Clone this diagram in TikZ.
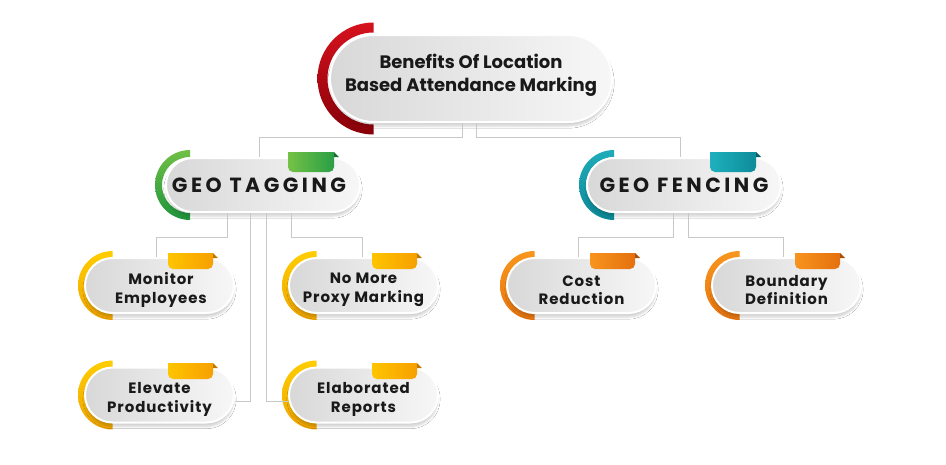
\documentclass[tikz,border=0pt]{standalone}
\usepackage{fontspec}
\setmainfont{Poppins}
\newfontfamily\geofont{Poppins}[LetterSpace=17]
\newfontfamily\smallfont{Poppins}[LetterSpace=6]
\usetikzlibrary{shadows.blur}
\definecolor{pillL}{RGB}{216,216,216}
\definecolor{pillR}{RGB}{247,247,247}
\definecolor{txt}{RGB}{25,25,25}
\definecolor{lineC}{RGB}{200,200,200}
\definecolor{redT}{RGB}{214,18,30}\definecolor{redB}{RGB}{135,0,8}
\definecolor{grnT}{RGB}{112,192,70}\definecolor{grnB}{RGB}{30,148,60}
\definecolor{grnL}{RGB}{116,194,70}\definecolor{grnR}{RGB}{42,158,70}\definecolor{grnF}{RGB}{20,110,50}
\definecolor{tealT}{RGB}{30,172,186}\definecolor{tealB}{RGB}{14,136,150}
\definecolor{tealL}{RGB}{30,176,190}\definecolor{tealR}{RGB}{14,140,154}\definecolor{tealF}{RGB}{8,95,105}
\definecolor{yelT}{RGB}{255,205,0}\definecolor{yelB}{RGB}{240,165,0}
\definecolor{yelL}{RGB}{255,196,0}\definecolor{yelR}{RGB}{246,160,0}\definecolor{yelF}{RGB}{190,120,0}
\definecolor{orT}{RGB}{248,150,30}\definecolor{orB}{RGB}{232,118,16}
\definecolor{orL}{RGB}{248,148,30}\definecolor{orR}{RGB}{228,112,14}\definecolor{orF}{RGB}{170,80,10}
% arc: cx, cy, outer r, inner r, top colour, bottom colour
\newcommand{\mkarc}[6]{%
  \shade[top color=#5,bottom color=#6] (#1,#2) ++(0,#3) arc[start angle=90,end angle=270,radius=#3]
    -- ++(0,#3-#4) arc[start angle=270,end angle=90,radius=#4] -- cycle;}
% tab: x1, x2, ytop, ybottom, left colour, right colour, fold colour
\newcommand{\mktab}[7]{%
  \shade[left color=#5,right color=#6] (#1,#3) -- (#2,#3) -- (#2,#4+5) arc[start angle=0,end angle=-90,radius=5]
    -- (#1+5,#4) arc[start angle=270,end angle=180,radius=5] -- cycle;
  \fill[#7] (#2,#3) -- (#2+5,#3-5) -- (#2,#3-5) -- cycle;}
\tikzset{
  pill/.style={draw=white, line width=2pt, left color=pillL, right color=pillR,
    blur shadow={shadow xshift=0pt, shadow yshift=-4pt, shadow opacity=18, shadow blur steps=6}},
  bigpill/.style={pill, minimum width=282pt, minimum height=87pt, rounded corners=43.5pt},
  geopill/.style={pill, minimum width=194pt, minimum height=54pt, rounded corners=27pt},
  smallpill/.style={pill, minimum width=149pt, minimum height=55pt, rounded corners=27.5pt},
  bigtext/.style={align=center, text=txt, inner sep=0pt, font=\bfseries\fontsize{18}{23}\selectfont},
  geotext/.style={text=txt, inner sep=0pt, font=\geofont\bfseries\fontsize{20.5}{24}\selectfont},
  smalltext/.style={align=center, text=txt, inner sep=0pt, font=\smallfont\bfseries\fontsize{15}{18.5}\selectfont},
  conn/.style={draw=lineC, line width=0.8pt}
}
\begin{document}
\begin{tikzpicture}[x=1pt,y=1pt]
\fill[white] (0,0) rectangle (946,-464);
\useasboundingbox (0,0) rectangle (946,-464);
% arcs
\mkarc{373.5}{-78.5}{56}{46}{redT}{redB}
\mkarc{190}{-185}{35}{28}{grnT}{grnB}
\mkarc{614}{-185}{35}{28}{tealT}{tealB}
\mkarc{112.5}{-285.5}{34.5}{28}{yelT}{yelB}
\mkarc{316.5}{-285.5}{34.5}{28}{yelT}{yelB}
\mkarc{112.5}{-395}{34.5}{28}{yelT}{yelB}
\mkarc{316.5}{-395}{34.5}{28}{yelT}{yelB}
\mkarc{534.5}{-285.5}{34.5}{28}{orT}{orB}
\mkarc{739.5}{-285.5}{34.5}{28}{orT}{orB}
% pills
\node[bigpill] (top) at (471,-78.5) {};
\node[geopill] (gt) at (263,-185) {};
\node[geopill] (gf) at (684,-185) {};
\node[smallpill] (monitor) at (159.5,-285.5) {};
\node[smallpill] (proxy) at (363.5,-285.5) {};
\node[smallpill] (elevate) at (159.5,-395) {};
\node[smallpill] (elab) at (363.5,-395) {};
\node[smallpill] (cost) at (581.5,-285.5) {};
\node[smallpill] (boundary) at (786.5,-285.5) {};
% texts
\node[bigtext] (top-t) at ([yshift=3pt]top.center) {Benefits Of Location\\Based Attendance Marking};
\node[geotext] (gt-t) at ([xshift=-4pt]gt.center) {GEO TAGGING};
\node[geotext] (gf-t) at ([xshift=0pt]gf.center) {GEO FENCING};
\node[smalltext] (monitor-t) at ([xshift=1.5pt,yshift=-4.5pt]monitor.center) {Monitor\\Employees};
\node[smalltext] (proxy-t) at ([yshift=-4.5pt]proxy.center) {No More\\Proxy Marking};
\node[smalltext] (elevate-t) at ([yshift=-4.5pt]elevate.center) {Elevate\\Productivity};
\node[smalltext] (elab-t) at ([yshift=-4.5pt]elab.center) {Elaborated\\Reports};
\node[smalltext] (cost-t) at ([yshift=-4.5pt]cost.center) {Cost\\Reduction};
\node[smalltext] (boundary-t) at ([yshift=-4.5pt]boundary.center) {Boundary\\Definition};
% tabs
\mktab{288}{334}{-152}{-172}{grnL}{grnR}{grnF}
\mktab{710}{756}{-152}{-172}{tealL}{tealR}{tealF}
\mktab{168}{213}{-253}{-269}{yelL}{yelR}{yelF}
\mktab{372}{417}{-253}{-269}{yelL}{yelR}{yelF}
\mktab{168}{213}{-363}{-379}{yelL}{yelR}{yelF}
\mktab{372}{417}{-363}{-379}{yelL}{yelR}{yelF}
\mktab{590}{635}{-253}{-269}{orL}{orR}{orF}
\mktab{795}{840}{-253}{-269}{orL}{orR}{orF}
% connectors
\draw[conn] ([xshift=-8.5pt]top.south) -- ++(0,-14) -| ([xshift=-4pt]gt.north);
\draw[conn] ([xshift=5pt]top.south) -- ++(0,-14) -| ([xshift=-4pt]gf.north);
\draw[conn] ([xshift=-36pt]gt.south) -- ++(0,-24) -| ([xshift=-3.5pt]monitor.north);
\draw[conn] ([xshift=28pt]gt.south) -- ++(0,-24) -| ([xshift=-1.5pt]proxy.north);
\draw[conn] ([xshift=-13pt]gt.south) |- ([yshift=-6pt]elevate.east);
\draw[conn] ([xshift=3pt]gt.south) |- ([yshift=-6pt]elab.west);
\draw[conn] ([xshift=-11pt]gf.south) -- ++(0,-24) -| ([xshift=-3.5pt]cost.north);
\draw[conn] ([xshift=4pt]gf.south) -- ++(0,-24) -| ([xshift=-3.5pt]boundary.north);
\end{tikzpicture}
\end{document}
